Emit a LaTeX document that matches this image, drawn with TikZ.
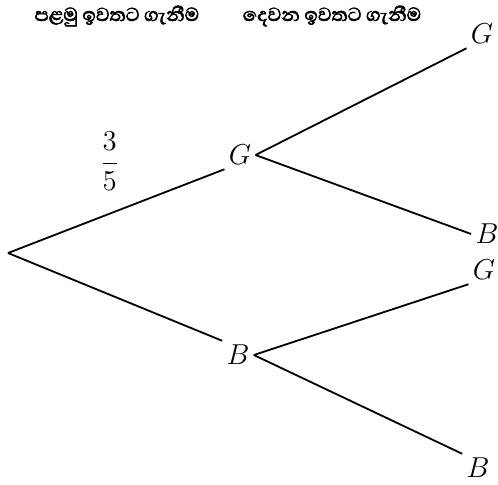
\documentclass[tikz,border=0pt]{standalone}
\usepackage{fontspec}
\newfontfamily\sinhala[Script=Sinhala,FakeBold=2.5]{Abhaya Libre}
\usetikzlibrary{positioning}

\begin{document}
\begin{tikzpicture}[x=0.5pt,y=-0.5pt,font=\Large]
\tikzstyle{lbl}=[inner sep=2pt]
\tikzstyle{hd}=[font=\sinhala\large]
\useasboundingbox (0,0) rectangle (498,484);
\coordinate (root) at (8,253);
\node[lbl] (g1) at (240,155) {$G$};
\node[lbl] (b1) at (238,355) {$B$};
\node[lbl] (gg) at (482,34) {$G$};
\node[lbl] (gb) at (487,234) {$B$};
\node[lbl] (bg) at (484,270) {$G$};
\node[lbl] (bb) at (478,468) {$B$};
\node[hd] (h1) at (117,16) {පළමු ඉවතට ගැනීම};
\node[hd] (h2) at (332,16) {දෙවන ඉවතට ගැනීම};
\draw[line width=0.9pt] (root) -- node[above=8pt,pos=0.47]{$\displaystyle\frac{3}{5}$} (g1.south west);
\draw[line width=0.9pt] (root) -- (b1.north west);
\draw[line width=0.9pt] (g1.east) -- (gg.south west);
\draw[line width=0.9pt] (g1.east) -- (gb.west);
\draw[line width=0.9pt] (b1.east) -- (bg.south west);
\draw[line width=0.9pt] (b1.east) -- (bb.north west);
\end{tikzpicture}
\end{document}
